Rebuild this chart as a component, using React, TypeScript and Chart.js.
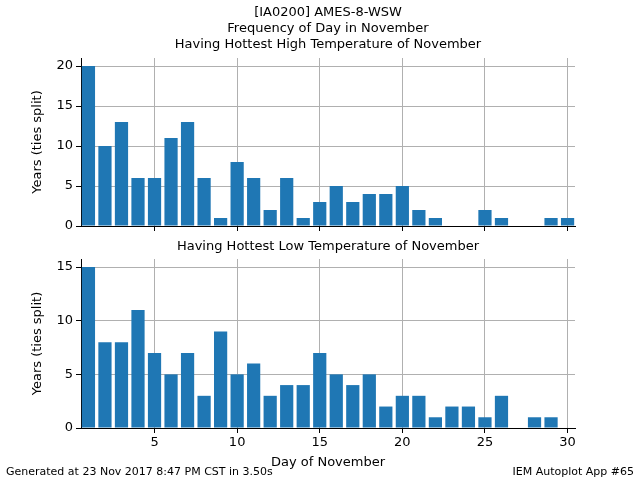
import React, { useEffect, useRef } from "react";
import { Chart, registerables } from "chart.js";
Chart.register(...registerables);

const days = Array.from({ length: 30 }, (_, i) => i + 1);
const highCounts = [20, 10, 13, 6, 6, 11, 13, 6, 1, 8, 6, 2, 6, 1, 3, 5, 3, 4, 4, 5, 2, 1, 0, 0, 2, 1, 0, 0, 1, 1];
const lowCounts = [15, 8, 8, 11, 7, 5, 7, 3, 9, 5, 6, 3, 4, 4, 7, 5, 4, 5, 2, 3, 3, 1, 2, 2, 1, 3, 0, 1, 1, 0];
const xTicks = [5, 10, 15, 20, 25, 30];
const highYTicks = [0, 5, 10, 15, 20];
const lowYTicks = [0, 5, 10, 15];

const FONT = "DejaVu Sans";

function makeChart(canvas: HTMLCanvasElement, values: number[], yMax: number, yTicks: number[], showXLabels: boolean, padTop: number, padBottom: number, xH: number) {
  return new Chart(canvas, {
    type: "bar",
    data: {
      datasets: [{
        data: days.map((d, i) => ({ x: d, y: values[i] })),
        backgroundColor: "#1f77b4",
        barPercentage: 0.8,
        categoryPercentage: 1,
        grouped: false,
      } as any],
    },
    options: {
      animation: false,
      responsive: false,
      maintainAspectRatio: false,
      layout: { padding: { top: padTop, right: 65, bottom: padBottom, left: 30 } },
      plugins: { legend: { display: false }, tooltip: { enabled: false } },
      scales: {
        x: {
          type: "linear",
          offset: false,
          min: 0.55,
          max: 30.45,
          afterBuildTicks: (ax: any) => { ax.ticks = xTicks.map((v) => ({ value: v })); },
          afterFit: (ax: any) => { ax.height = xH; },
          grid: { color: "#b0b0b0", tickLength: 5, tickColor: "#000", offset: false },
          border: { color: "#000" },
          ticks: { display: showXLabels, color: "#000", font: { family: FONT, size: 13 }, maxRotation: 0, padding: 2 },
        },
        y: {
          min: 0,
          max: yMax,
          afterBuildTicks: (ax: any) => { ax.ticks = yTicks.map((v) => ({ value: v })); },
          afterFit: (ax: any) => { ax.width = 51; },
          grid: { color: "#b0b0b0", tickLength: 5, tickColor: "#000" },
          border: { color: "#000" },
          ticks: { color: "#000", font: { family: FONT, size: 13 }, padding: 3 },
          title: { display: true, text: "Years (ties split)", color: "#000", font: { family: FONT, size: 13 }, padding: 0 },
        },
      },
    },
  } as any);
}

export default function App() {
  const r1 = useRef<HTMLCanvasElement>(null);
  const r2 = useRef<HTMLCanvasElement>(null);
  useEffect(() => {
    const c1 = makeChart(r1.current!, highCounts, 21, highYTicks, false, 58, 4, 10);
    const c2 = makeChart(r2.current!, lowCounts, 15.75, lowYTicks, true, 19, 32, 20);
    return () => { c1.destroy(); c2.destroy(); };
  }, []);
  const t: React.CSSProperties = { position: "absolute", fontFamily: FONT, fontSize: 13, color: "#000", whiteSpace: "nowrap" };
  return (
    <div style={{ position: "fixed", left: 0, top: 0, width: 640, height: 480, background: "#fff" }}>
      <canvas ref={r1} width={640} height={240} style={{ position: "absolute", left: 0, top: 0 }} />
      <canvas ref={r2} width={640} height={240} style={{ position: "absolute", left: 0, top: 240 }} />
      <div style={{ ...t, left: 0, width: 656, top: 4, textAlign: "center", lineHeight: "16px" }}>
        [IA0200] AMES-8-WSW<br />Frequency of Day in November<br />Having Hottest High Temperature of November
      </div>
      <div style={{ ...t, left: 0, width: 656, top: 238, textAlign: "center" }}>Having Hottest Low Temperature of November</div>
      <div style={{ ...t, left: 0, width: 656, top: 454, textAlign: "center" }}>Day of November</div>
      <div style={{ ...t, left: 6, top: 465, fontSize: 11 }}>Generated at 23 Nov 2017 8:47 PM CST in 3.50s</div>
      <div style={{ ...t, right: 6, top: 465, fontSize: 11 }}>IEM Autoplot App #65</div>
    </div>
  );
}
